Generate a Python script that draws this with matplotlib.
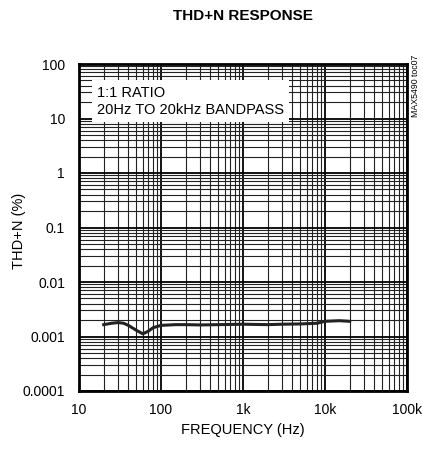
import numpy as np
import matplotlib.pyplot as plt
from matplotlib.patches import Rectangle
from matplotlib.ticker import LogLocator, FixedLocator, FixedFormatter, NullFormatter

FONT = ['Liberation Sans Narrow', 'Liberation Sans', 'DejaVu Sans']
plt.rcParams['font.family'] = FONT

# THD+N vs frequency, 1:1 ratio, 20Hz-20kHz bandpass
freq_hz = [20, 25, 30, 35, 40, 50, 60, 70, 80, 100, 150, 200, 300, 500,
           1000, 2000, 3000, 5000, 8000, 10000, 15000, 20000]
thd_pct = [0.00165, 0.00175, 0.0018, 0.00175, 0.0016, 0.0013, 0.00112, 0.00125,
           0.00145, 0.0016, 0.00165, 0.00165, 0.00163, 0.00165, 0.00168, 0.00165,
           0.00168, 0.0017, 0.00175, 0.0019, 0.00195, 0.0019]

x_ticks = [10, 100, 1000, 10000, 100000]
x_labels = ['10', '100', '1k', '10k', '100k']
y_ticks = [0.0001, 0.001, 0.01, 0.1, 1, 10, 100]
y_labels = ['0.0001', '0.001', '0.01', '0.1', '1', '10', '100']

fig = plt.figure(figsize=(4.23, 4.54), dpi=100)
ax = fig.add_axes([79 / 423, 1 - 391 / 454, 328 / 423, 327 / 454])

ax.set_xscale('log')
ax.set_yscale('log')
ax.set_xlim(10, 100000)
ax.set_ylim(0.0001, 100)

ax.xaxis.set_major_locator(FixedLocator(x_ticks))
ax.xaxis.set_major_formatter(FixedFormatter(x_labels))
ax.yaxis.set_major_locator(FixedLocator(y_ticks))
ax.yaxis.set_major_formatter(FixedFormatter(y_labels))
ax.xaxis.set_minor_locator(LogLocator(base=10, subs=np.arange(2, 10), numticks=20))
ax.yaxis.set_minor_locator(LogLocator(base=10, subs=np.arange(2, 10), numticks=20))
ax.xaxis.set_minor_formatter(NullFormatter())
ax.yaxis.set_minor_formatter(NullFormatter())

ax.grid(which='major', color='black', linewidth=1.3)
ax.grid(which='minor', color='#222222', linewidth=0.8)
ax.tick_params(which='both', length=0, labelsize=10)
ax.tick_params(axis='x', pad=9)
ax.tick_params(axis='y', pad=10)
for s in ax.spines.values():
    s.set_linewidth(2)

ax.plot(freq_hz, thd_pct, color='#222222', linewidth=2.2, zorder=5)

# white label panel over the grid
ax.add_patch(Rectangle((0.04, 0.823), 0.60, 0.128, transform=ax.transAxes,
                       facecolor='white', edgecolor='none', zorder=4))
ax.text(0.055, 0.912, '1:1 RATIO', transform=ax.transAxes, fontsize=10.5,
        va='center', ha='left', zorder=6)
ax.text(0.055, 0.858, '20Hz TO 20kHz BANDPASS', transform=ax.transAxes,
        fontsize=10.5, va='center', ha='left', zorder=6)

ax.set_xlabel('FREQUENCY (Hz)', fontsize=10.5)
ax.xaxis.set_label_coords(0.5, -(423 - 391) / 327)
ax.set_ylabel('THD+N (%)', fontsize=10.5)
ax.yaxis.set_label_coords(-(79 - 26) / 328, 1 - (231 - 64) / 327)

fig.text(243 / 423, 1 - 16 / 454, 'THD+N RESPONSE', ha='center', va='center',
         fontsize=11, fontweight='bold')
fig.text(415 / 423, 1 - 55 / 454, 'MAX5490 toc07', rotation=90, ha='center',
         va='top', fontsize=6.3)

fig.savefig('out.png', dpi=100)
